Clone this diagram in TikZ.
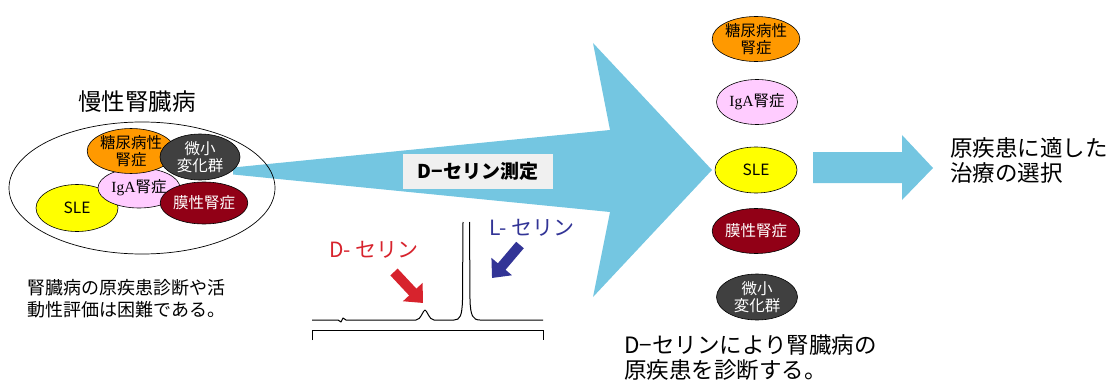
\documentclass[tikz,border=0pt]{standalone}
\usepackage{fontspec}
\setmainfont{Noto Sans CJK JP}
\newfontfamily\latinserif{Liberation Serif}
\usetikzlibrary{shapes.geometric,arrows.meta}
\definecolor{arrowblue}{RGB}{116,198,225}
\definecolor{dzorange}{RGB}{255,153,0}
\definecolor{dzgray}{RGB}{64,64,64}
\definecolor{dzpink}{RGB}{255,204,255}
\definecolor{dzyellow}{RGB}{255,255,0}
\definecolor{dzmaroon}{RGB}{145,0,22}
\definecolor{labelgray}{RGB}{240,240,240}
\definecolor{dred}{RGB}{215,35,45}
\definecolor{lblue}{RGB}{50,52,150}
\tikzset{
  dz/.style={ellipse, draw=black, line width=0.6pt, inner sep=0pt, align=center,
    font=\fontsize{15.5}{17.5}\selectfont},
  bigtext/.style={anchor=west, align=left, inner sep=0pt, font=\fontsize{22.5}{25}\selectfont},
  fatarrow/.style={line width=10pt, -{Triangle[length=15pt,width=26pt]}}
}
\begin{document}
\begin{tikzpicture}[x=1pt,y=-1pt]
\useasboundingbox (0,0) rectangle (1113,385);

% big tapered arrow
\fill[arrowblue] (233,167.5) -- (610,130) -- (593,43) -- (712,170) -- (593,297) -- (610,212) -- (233,174.5) -- cycle;
\node[fill=labelgray, minimum width=150pt, minimum height=35pt, inner sep=0pt,
  font=\fontsize{19}{21}\selectfont\bfseries] (meas) at (478,171) {D−セリン測定};

% left group
\node[font=\fontsize{23.5}{26}\selectfont] (ckd) at (137,102) {慢性腎臓病};
\node[ellipse, draw=black, line width=0.7pt, minimum width=266pt, minimum height=132pt, inner sep=0pt] (outer) at (142,188) {};
\node[dz, fill=dzyellow, minimum width=82pt, minimum height=47pt] (sleL) at (77,208) {SLE};
\node[dz, fill=dzpink, minimum width=82pt, minimum height=40pt] (igaL) at (139,188) {{\latinserif IgA}腎症};
\node[dz, fill=dzorange, minimum width=78pt, minimum height=43pt] (dmL) at (131,151) {糖尿病性\\腎症};
\node[dz, fill=dzgray, text=white, minimum width=80pt, minimum height=46pt] (mcL) at (200,157) {微小\\変化群};
\node[dz, fill=dzmaroon, text=white, minimum width=82pt, minimum height=42pt] (mnL) at (204,203) {膜性腎症};

\node[anchor=west, align=left, inner sep=0pt, font=\fontsize{18}{22}\selectfont] (diff) at (27,299)
  {腎臓病の原疾患診断や活\\動性評価は困難である。};

% chromatogram
\draw[line width=1pt, line join=round] (312,320) -- (338,320) -- (341,322) -- (343,318) -- (346,320) -- (416,320)
  .. controls (421,320) and (423,310) .. (425,310) .. controls (427,310) and (429,320) .. (434,320) -- (454,320)
  .. controls (460,320) and (462,316) .. (462.5,300) -- (463,222);
\draw[line width=1pt] (469.5,222) -- (470,300) .. controls (470.5,316) and (473,320) .. (480,320) -- (543,320);
\draw[line width=0.9pt] (312,340) -- (312,330) -- (543,330) -- (543,340);
\node[text=dred, font=\fontsize{21}{23}\selectfont] (dser) at (374,250) {D- セリン};
\node[text=lblue, font=\fontsize{21}{23}\selectfont] (lser) at (532,228) {L- セリン};
\coordinate (dtail) at (394,272);
\coordinate (dtip) at (423,303);
\coordinate (ltail) at (520,245);
\coordinate (ltip) at (492,278);
\draw[fatarrow, dred] (dtail) -- (dtip);
\draw[fatarrow, lblue] (ltail) -- (ltip);

% right column
\node[dz, fill=dzorange, minimum width=82pt, minimum height=45pt] (dmR) at (756,39) {糖尿病性\\腎症};
\node[dz, fill=dzpink, minimum width=81pt, minimum height=45pt] (igaR) at (757,102) {{\latinserif IgA}腎症};
\node[dz, fill=dzyellow, minimum width=82pt, minimum height=46pt] (sleR) at (756,170) {SLE};
\node[dz, fill=dzmaroon, text=white, minimum width=82pt, minimum height=45pt] (mnR) at (756,231) {膜性腎症};
\node[dz, fill=dzgray, text=white, minimum width=81pt, minimum height=46pt] (mcR) at (757,297) {微小\\変化群};

\node[bigtext] (diag) at (624,357.5) {D−セリンにより腎臓病の\\原疾患を診断する。};

% small arrow
\fill[arrowblue] (813,152) -- (902,152) -- (902,135) -- (933,168) -- (902,200) -- (902,183) -- (813,183) -- cycle;
\node[bigtext] (treat) at (950,160) {原疾患に適した\\治療の選択};
\end{tikzpicture}
\end{document}
